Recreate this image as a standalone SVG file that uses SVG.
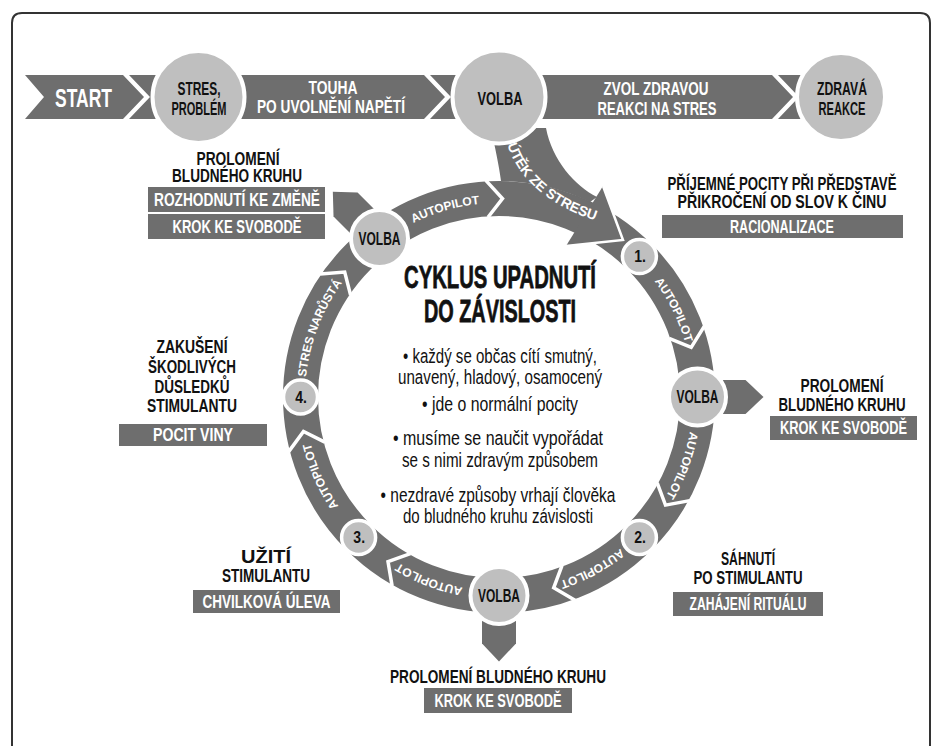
<svg xmlns="http://www.w3.org/2000/svg" width="937" height="746" viewBox="0 0 937 746">
<defs>
<style>
.t{font-family:"Liberation Sans",Arial,sans-serif;font-weight:bold;text-anchor:middle;font-size:14px}
.w{fill:#fff}
.k{fill:#111}
.band{fill:#6e6e6e}
.box{fill:#6e6e6e}
.node{fill:#bfbfbf;stroke:#fff;stroke-width:4}
.num{fill:#bfbfbf;stroke:#fff;stroke-width:3.5}
.chev{fill:none;stroke:#fff;stroke-width:3.5}
.p{font-family:"Liberation Sans",Arial,sans-serif;text-anchor:middle;fill:#111;font-size:15.6px}
.rl{font-family:"Liberation Sans",Arial,sans-serif;font-weight:bold;fill:#fff;font-size:12px}
.hv{stroke:#111;stroke-width:0.6;font-size:25px}
</style>
<path id="a1" d="M410.9,224.1 A194,194 0 0,1 482.1,203.7"/>
<path id="a2" d="M652.9,278.9 A194,194 0 0,1 685.9,345.2"/>
<path id="a3" d="M690.3,429.0 A194,194 0 0,1 664.4,498.4"/>
<path id="a4" d="M622.4,546.7 A194,194 0 0,1 557.3,582.0"/>
<path id="a5" d="M465.3,588.1 A194,194 0 0,1 396.2,561.5"/>
<path id="a6" d="M340.1,508.3 A194,194 0 0,1 310.0,440.6"/>
<path id="a7" d="M305.7,380.1 A194,194 0 0,1 344.1,280.3"/>
<path id="ut" d="M506,140 C515,175 545,205 600,222"/>
<polygon id="pa" points="0,-17 48,-17 66,0 48,17 0,17"/>
</defs>
<rect width="937" height="746" fill="#fff"/>
<path d="M12,760 V23 Q12,13 22,13 H920 Q930,13 930,23 V760" fill="none" stroke="#333" stroke-width="2"/>

<g id="connectors">
  <path class="band" d="M25,75 H123 L144,97 L123,119 H25 L44,97 Z"/>
  <path class="band" d="M129,75 H424 L445,97 L424,119 H129 L150,97 Z"/>
  <path class="band" d="M430,75 H772 L793,97 L772,119 H430 L451,97 Z"/>
  <path class="band" d="M778,75 H842 V119 H778 L799,97 Z"/>
  <circle cx="499" cy="397" r="198.5" fill="none" stroke="#6e6e6e" stroke-width="35"/>
  <path class="band" d="M491,128 L546,128 C552,160 575,186 597,197 L590,202 A216,216 0 0,0 501,181 C499,165 495,148 491,128 Z"/>
  <path class="band" d="M603,186 L623,240 L566,246 Z"/>
  <polyline points="603,186 623,240 566,246" fill="none" stroke="#fff" stroke-width="2.5"/>
  <use href="#pa" class="band" transform="translate(379.5,238.5) rotate(-135)"/>
  <use href="#pa" class="band" transform="translate(697.5,397)"/>
  <use href="#pa" class="band" transform="translate(499,595.5) rotate(90)"/>
  <polyline class="chev" points="485.8,180.4 502.5,198.5 488.0,217.3"/>
  <polyline class="chev" points="704.2,326.4 691.2,347.3 669.1,338.4"/>
  <polyline class="chev" points="689.7,500.6 665.5,505.1 657.2,482.9"/>
  <polyline class="chev" points="575.0,600.3 553.7,587.8 562.0,565.6"/>
  <polyline class="chev" points="392.1,585.9 388.0,561.6 410.4,553.6"/>
  <polyline class="chev" points="288.9,451.4 303.5,431.5 324.8,442.1"/>
  <polyline class="chev" points="320.2,274.1 344.7,272.1 350.6,295.1"/>
  <text class="rl"><textPath href="#a1" startOffset="50%" text-anchor="middle">AUTOPILOT</textPath></text>
  <text class="rl"><textPath href="#a2" startOffset="50%" text-anchor="middle">AUTOPILOT</textPath></text>
  <text class="rl"><textPath href="#a3" startOffset="50%" text-anchor="middle">AUTOPILOT</textPath></text>
  <text class="rl"><textPath href="#a4" startOffset="50%" text-anchor="middle">AUTOPILOT</textPath></text>
  <text class="rl"><textPath href="#a5" startOffset="50%" text-anchor="middle">AUTOPILOT</textPath></text>
  <text class="rl"><textPath href="#a6" startOffset="50%" text-anchor="middle">AUTOPILOT</textPath></text>
  <text class="rl"><textPath href="#a7" startOffset="50%" text-anchor="middle">STRES NARŮSTÁ</textPath></text>
  <text class="rl" style="font-size:14px"><textPath href="#ut" startOffset="50%" text-anchor="middle">ÚTĚK ZE STRESU</textPath></text>
  <text class="t w" transform="translate(83.5,107) scale(1,1.25)" style="font-size:20px" textLength="57" lengthAdjust="spacingAndGlyphs">START</text>
  <text class="t w" transform="translate(333,94) scale(1,1.25)" style="font-size:14.4px" textLength="49" lengthAdjust="spacingAndGlyphs">TOUHA</text>
  <text class="t w" transform="translate(331,113) scale(1,1.25)" style="font-size:14.4px" textLength="148" lengthAdjust="spacingAndGlyphs">PO UVOLNĚNÍ NAPĚTÍ</text>
  <text class="t w" transform="translate(656,95) scale(1,1.25)" style="font-size:14.4px" textLength="105" lengthAdjust="spacingAndGlyphs">ZVOL ZDRAVOU</text>
  <text class="t w" transform="translate(657,115) scale(1,1.25)" style="font-size:14.4px" textLength="119" lengthAdjust="spacingAndGlyphs">REAKCI NA STRES</text>
</g>

<g id="n-stres">
  <circle class="node" cx="198.5" cy="97" r="46"/>
  <text class="t k" transform="translate(199,94.8) scale(1,1.25)" style="font-size:14.4px" textLength="43" lengthAdjust="spacingAndGlyphs">STRES,</text>
  <text class="t k" transform="translate(199,115.2) scale(1,1.25)" style="font-size:14.4px" textLength="55" lengthAdjust="spacingAndGlyphs">PROBLÉM</text>
</g>
<g id="n-volba-top">
  <circle class="node" cx="499" cy="97" r="46.5"/>
  <text class="t k" transform="translate(500,105) scale(1,1.25)" style="font-size:15.2px" textLength="45" lengthAdjust="spacingAndGlyphs">VOLBA</text>
</g>
<g id="n-zdrava">
  <circle class="node" cx="841" cy="97" r="44"/>
  <text class="t k" transform="translate(842,95) scale(1,1.25)" style="font-size:14.4px" textLength="50" lengthAdjust="spacingAndGlyphs">ZDRAVÁ</text>
  <text class="t k" transform="translate(842,115) scale(1,1.25)" style="font-size:14.4px" textLength="47" lengthAdjust="spacingAndGlyphs">REAKCE</text>
</g>

<g id="n-volba-nw">
  <circle class="node" cx="379.5" cy="238.5" r="28.5"/>
  <text class="t k" transform="translate(379.5,244.5) scale(1,1.25)" textLength="42" lengthAdjust="spacingAndGlyphs">VOLBA</text>
</g>
<g id="n-1">
  <circle class="num" cx="639.4" cy="256.6" r="17"/>
  <text class="t k" transform="translate(640,262) scale(1,1.15)">1.</text>
</g>
<g id="n-volba-e">
  <circle class="node" cx="697.5" cy="397" r="28.5"/>
  <text class="t k" transform="translate(697.5,403) scale(1,1.25)" textLength="42" lengthAdjust="spacingAndGlyphs">VOLBA</text>
</g>
<g id="n-2">
  <circle class="num" cx="639.4" cy="537.4" r="17"/>
  <text class="t k" transform="translate(640,543.4) scale(1,1.2)">2.</text>
</g>
<g id="n-volba-s">
  <circle class="node" cx="499" cy="595.5" r="28.5"/>
  <text class="t k" transform="translate(499,601.5) scale(1,1.25)" textLength="42" lengthAdjust="spacingAndGlyphs">VOLBA</text>
</g>
<g id="n-3">
  <circle class="num" cx="358.6" cy="537.4" r="17"/>
  <text class="t k" transform="translate(359.2,543.4) scale(1,1.2)">3.</text>
</g>
<g id="n-4">
  <circle class="num" cx="300.5" cy="397" r="17"/>
  <text class="t k" transform="translate(301.1,403) scale(1,1.2)">4.</text>
</g>

<g id="center-text">
  <text class="t k hv" transform="translate(500,288) scale(1,1.25)" textLength="192" lengthAdjust="spacingAndGlyphs">CYKLUS UPADNUTÍ</text>
  <text class="t k hv" transform="translate(500,322) scale(1,1.25)" textLength="152" lengthAdjust="spacingAndGlyphs">DO ZÁVISLOSTI</text>
  <text class="p" transform="translate(500,363) scale(1,1.25)" textLength="194" lengthAdjust="spacingAndGlyphs">• každý se občas cítí smutný,</text>
  <text class="p" transform="translate(500,384) scale(1,1.25)" textLength="204" lengthAdjust="spacingAndGlyphs">unavený, hladový, osamocený</text>
  <text class="p" transform="translate(500,411) scale(1,1.25)" textLength="156" lengthAdjust="spacingAndGlyphs">• jde o normální pocity</text>
  <text class="p" transform="translate(498,445) scale(1,1.25)" textLength="210" lengthAdjust="spacingAndGlyphs">• musíme se naučit vypořádat</text>
  <text class="p" transform="translate(500,467) scale(1,1.25)" textLength="196" lengthAdjust="spacingAndGlyphs">se s nimi zdravým způsobem</text>
  <text class="p" transform="translate(498,502) scale(1,1.25)" textLength="235" lengthAdjust="spacingAndGlyphs">• nezdravé způsoby vrhají člověka</text>
  <text class="p" transform="translate(498,523) scale(1,1.25)" textLength="190" lengthAdjust="spacingAndGlyphs">do bludného kruhu závislosti</text>
</g>

<g id="l-nw">
  <text class="t k" transform="translate(238,165) scale(1,1.25)" textLength="83" lengthAdjust="spacingAndGlyphs">PROLOMENÍ</text>
  <text class="t k" transform="translate(237,182) scale(1,1.25)" textLength="130" lengthAdjust="spacingAndGlyphs">BLUDNÉHO KRUHU</text>
  <rect class="box" x="148" y="187" width="177" height="25"/>
  <text class="t w" transform="translate(237,206) scale(1,1.25)" textLength="166" lengthAdjust="spacingAndGlyphs">ROZHODNUTÍ KE ZMĚNĚ</text>
  <rect class="box" x="148" y="214" width="177" height="25"/>
  <text class="t w" transform="translate(237,233) scale(1,1.25)" textLength="129" lengthAdjust="spacingAndGlyphs">KROK KE SVOBODĚ</text>
</g>
<g id="l-1">
  <text class="t k" transform="translate(782,190) scale(1,1.25)" textLength="229" lengthAdjust="spacingAndGlyphs">PŘÍJEMNÉ POCITY PŘI PŘEDSTAVĚ</text>
  <text class="t k" transform="translate(782,208) scale(1,1.25)" textLength="209" lengthAdjust="spacingAndGlyphs">PŘIKROČENÍ OD SLOV K ČINU</text>
  <rect class="box" x="662" y="215" width="241" height="23"/>
  <text class="t w" transform="translate(782,233) scale(1,1.25)" textLength="104" lengthAdjust="spacingAndGlyphs">RACIONALIZACE</text>
</g>
<g id="l-e">
  <text class="t k" transform="translate(842,392) scale(1,1.25)" textLength="83" lengthAdjust="spacingAndGlyphs">PROLOMENÍ</text>
  <text class="t k" transform="translate(842,411) scale(1,1.25)" textLength="127" lengthAdjust="spacingAndGlyphs">BLUDNÉHO KRUHU</text>
  <rect class="box" x="770" y="416" width="147" height="24"/>
  <text class="t w" transform="translate(843.5,434) scale(1,1.25)" textLength="127" lengthAdjust="spacingAndGlyphs">KROK KE SVOBODĚ</text>
</g>
<g id="l-2">
  <text class="t k" transform="translate(748,565) scale(1,1.25)" textLength="54" lengthAdjust="spacingAndGlyphs">SÁHNUTÍ</text>
  <text class="t k" transform="translate(748,584) scale(1,1.25)" textLength="109" lengthAdjust="spacingAndGlyphs">PO STIMULANTU</text>
  <rect class="box" x="673" y="592" width="150" height="24"/>
  <text class="t w" transform="translate(748,610) scale(1,1.25)" textLength="117" lengthAdjust="spacingAndGlyphs">ZAHÁJENÍ RITUÁLU</text>
</g>
<g id="l-s">
  <text class="t k" transform="translate(498,683) scale(1,1.25)" textLength="216" lengthAdjust="spacingAndGlyphs">PROLOMENÍ BLUDNÉHO KRUHU</text>
  <rect class="box" x="424" y="688" width="148" height="25"/>
  <text class="t w" transform="translate(498,707) scale(1,1.25)" textLength="127" lengthAdjust="spacingAndGlyphs">KROK KE SVOBODĚ</text>
</g>
<g id="l-3">
  <text class="t k" transform="translate(266,563) scale(1,1.25)" textLength="50" lengthAdjust="spacingAndGlyphs">UŽITÍ</text>
  <text class="t k" transform="translate(266,582) scale(1,1.25)" textLength="88" lengthAdjust="spacingAndGlyphs">STIMULANTU</text>
  <rect class="box" x="193" y="590" width="147" height="23"/>
  <text class="t w" transform="translate(266.5,608) scale(1,1.25)" textLength="128" lengthAdjust="spacingAndGlyphs">CHVILKOVÁ ÚLEVA</text>
</g>
<g id="l-4">
  <text class="t k" transform="translate(192,353) scale(1,1.25)" textLength="71" lengthAdjust="spacingAndGlyphs">ZAKUŠENÍ</text>
  <text class="t k" transform="translate(192,373) scale(1,1.25)" textLength="88" lengthAdjust="spacingAndGlyphs">ŠKODLIVÝCH</text>
  <text class="t k" transform="translate(192,393) scale(1,1.25)" textLength="75" lengthAdjust="spacingAndGlyphs">DŮSLEDKŮ</text>
  <text class="t k" transform="translate(192,412) scale(1,1.25)" textLength="90" lengthAdjust="spacingAndGlyphs">STIMULANTU</text>
  <rect class="box" x="119" y="424" width="148" height="22"/>
  <text class="t w" transform="translate(193,441) scale(1,1.25)" textLength="80" lengthAdjust="spacingAndGlyphs">POCIT VINY</text>
</g>
</svg>
